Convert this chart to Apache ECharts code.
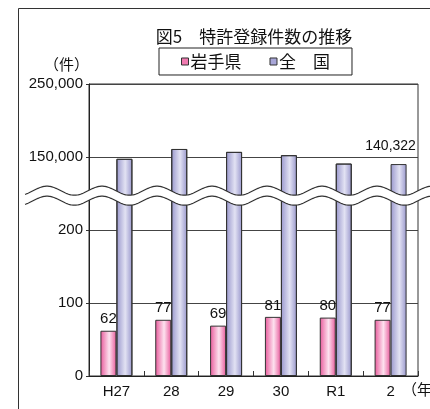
<!DOCTYPE html>
<html>
<head>
    <meta charset="utf-8">
    <script src="https://cdn.jsdelivr.net/npm/echarts@6/dist/echarts.min.js"></script>
</head>
<body style="margin:0;background:#fff;">
    <div id="main" style="width: 430px;height:409px;"></div>
    <script type="text/javascript">
        // 年度と件数
        var years = ['H27', '28', '29', '30', 'R1', '2'];
        var iwate = [62, 77, 69, 81, 80, 77];
        var zenkoku = [147500, 161000, 157000, 152500, 141000, 140322];
        // 目盛り（下段は実数、上段は 150,000 以上を圧縮）
        var tickLabels = {0: '0', 100: '100', 200: '200', 300: '150,000', 400: '250,000'};

        // 上段の値を軸の単位に変換（150,000 → 300, 250,000 → 400）
        function toAxis(v) {
            return 300 + (v - 150000) / 1000;
        }

        var font = '"Liberation Sans", Arial, "Noto Sans CJK JP", sans-serif';
        var jpFont = '"Noto Sans CJK JP", sans-serif';

        var pinkGrad = new echarts.graphic.LinearGradient(0, 0, 1, 0, [
            {offset: 0, color: '#e8589a'},
            {offset: 0.55, color: '#fde2ef'},
            {offset: 1, color: '#e8589a'}
        ]);
        var blueGrad = new echarts.graphic.LinearGradient(0, 0, 1, 0, [
            {offset: 0, color: '#9896cc'},
            {offset: 0.55, color: '#e2e2f3'},
            {offset: 1, color: '#9896cc'}
        ]);

        var option = {
            animation: false,
            title: {
                text: '図5　特許登録件数の推移',
                left: 249,
                textAlign: 'center',
                top: 23,
                textStyle: {fontFamily: jpFont, fontSize: 17, fontWeight: 'normal', color: '#111'}
            },
            legend: {
                left: 159,
                top: 48,
                padding: [5, 22],
                borderColor: '#222',
                borderWidth: 1,
                itemWidth: 7,
                itemHeight: 7,
                itemGap: 28,
                icon: 'rect',
                textStyle: {fontFamily: jpFont, fontSize: 17, color: '#111', padding: [0, 0, 0, -3]},
                data: [
                    {name: '岩手県', itemStyle: {color: '#f07ab0', borderColor: '#333', borderWidth: 1}},
                    {name: '全　国', itemStyle: {color: '#a8a6d8', borderColor: '#333', borderWidth: 1}}
                ]
            },
            grid: {
                left: 89,
                right: 12,
                top: 84,
                bottom: 33,
                show: true,
                borderColor: '#333',
                borderWidth: 1
            },
            xAxis: {
                type: 'category',
                data: years,
                axisLine: {lineStyle: {color: '#222', width: 1}},
                axisTick: {show: true, inside: true, length: 5, lineStyle: {color: '#333'}},
                axisLabel: {fontFamily: font, fontSize: 15, color: '#111', margin: 8}
            },
            yAxis: {
                type: 'value',
                min: 0,
                max: 400,
                interval: 100,
                axisLine: {show: true, lineStyle: {color: '#222', width: 1}},
                axisTick: {show: true, length: 3, lineStyle: {color: '#333'}},
                axisLabel: {
                    fontFamily: font, fontSize: 15, color: '#111', margin: 6,
                    formatter: function (v) { return tickLabels[v]; }
                },
                splitLine: {lineStyle: {color: '#444', width: 1}}
            },
            series: [
                {
                    name: '岩手県',
                    type: 'bar',
                    barWidth: 16,
                    barGap: '0%',
                    data: iwate,
                    itemStyle: {color: pinkGrad, borderColor: '#333', borderWidth: 1},
                    label: {
                        show: true, position: 'top', distance: 4,
                        fontFamily: font, fontSize: 15, color: '#111'
                    }
                },
                {
                    name: '全　国',
                    type: 'bar',
                    barWidth: 16,
                    data: zenkoku.map(function (v, i) {
                        var d = {value: toAxis(v)};
                        if (i === zenkoku.length - 1) {
                            d.label = {
                                show: true, position: 'top', distance: 11, offset: [-8, 0],
                                fontFamily: font, fontSize: 14, color: '#111',
                                formatter: function () { return v.toLocaleString('en-US'); }
                            };
                        }
                        return d;
                    }),
                    itemStyle: {color: blueGrad, borderColor: '#333', borderWidth: 1},
                    label: {show: false}
                }
            ]
        };

        var myChart = echarts.init(document.getElementById('main'));
        myChart.setOption(option);

        // 省略の波線と外枠
        var yMid = myChart.convertToPixel({yAxisIndex: 0}, 247);
        var period = 55, amp = 4.5, gap = 10, x0 = 25, x1 = 432, phase = 47;
        var upper = [], lower = [];
        for (var x = x0; x <= x1; x += 1) {
            var y = yMid - gap / 2 - amp * Math.cos((x - phase) / period * 2 * Math.PI);
            upper.push([x, y]);
            lower.push([x, y + gap]);
        }
        var fill = upper.concat(lower.slice().reverse());
        myChart.setOption({
            graphic: [
                {type: 'rect', shape: {x: 18.5, y: 8.5, width: 440, height: 420},
                    style: {fill: 'none', stroke: '#333', lineWidth: 1}, z: 0},
                {type: 'polygon', shape: {points: fill}, style: {fill: '#fff'}, z: 100},
                {type: 'polyline', shape: {points: upper}, style: {stroke: '#333', lineWidth: 1.2, fill: 'none'}, z: 101},
                {type: 'polyline', shape: {points: lower}, style: {stroke: '#333', lineWidth: 1.2, fill: 'none'}, z: 101},
                {type: 'text', left: 44, top: 57,
                    style: {text: '（件）', fontFamily: jpFont, fontSize: 15, fill: '#111'}, z: 101},
                {type: 'text', left: 402, top: 382,
                    style: {text: '（年）', fontFamily: jpFont, fontSize: 15, fill: '#111'}, z: 101}
            ]
        });
    </script>
</body>
</html>
